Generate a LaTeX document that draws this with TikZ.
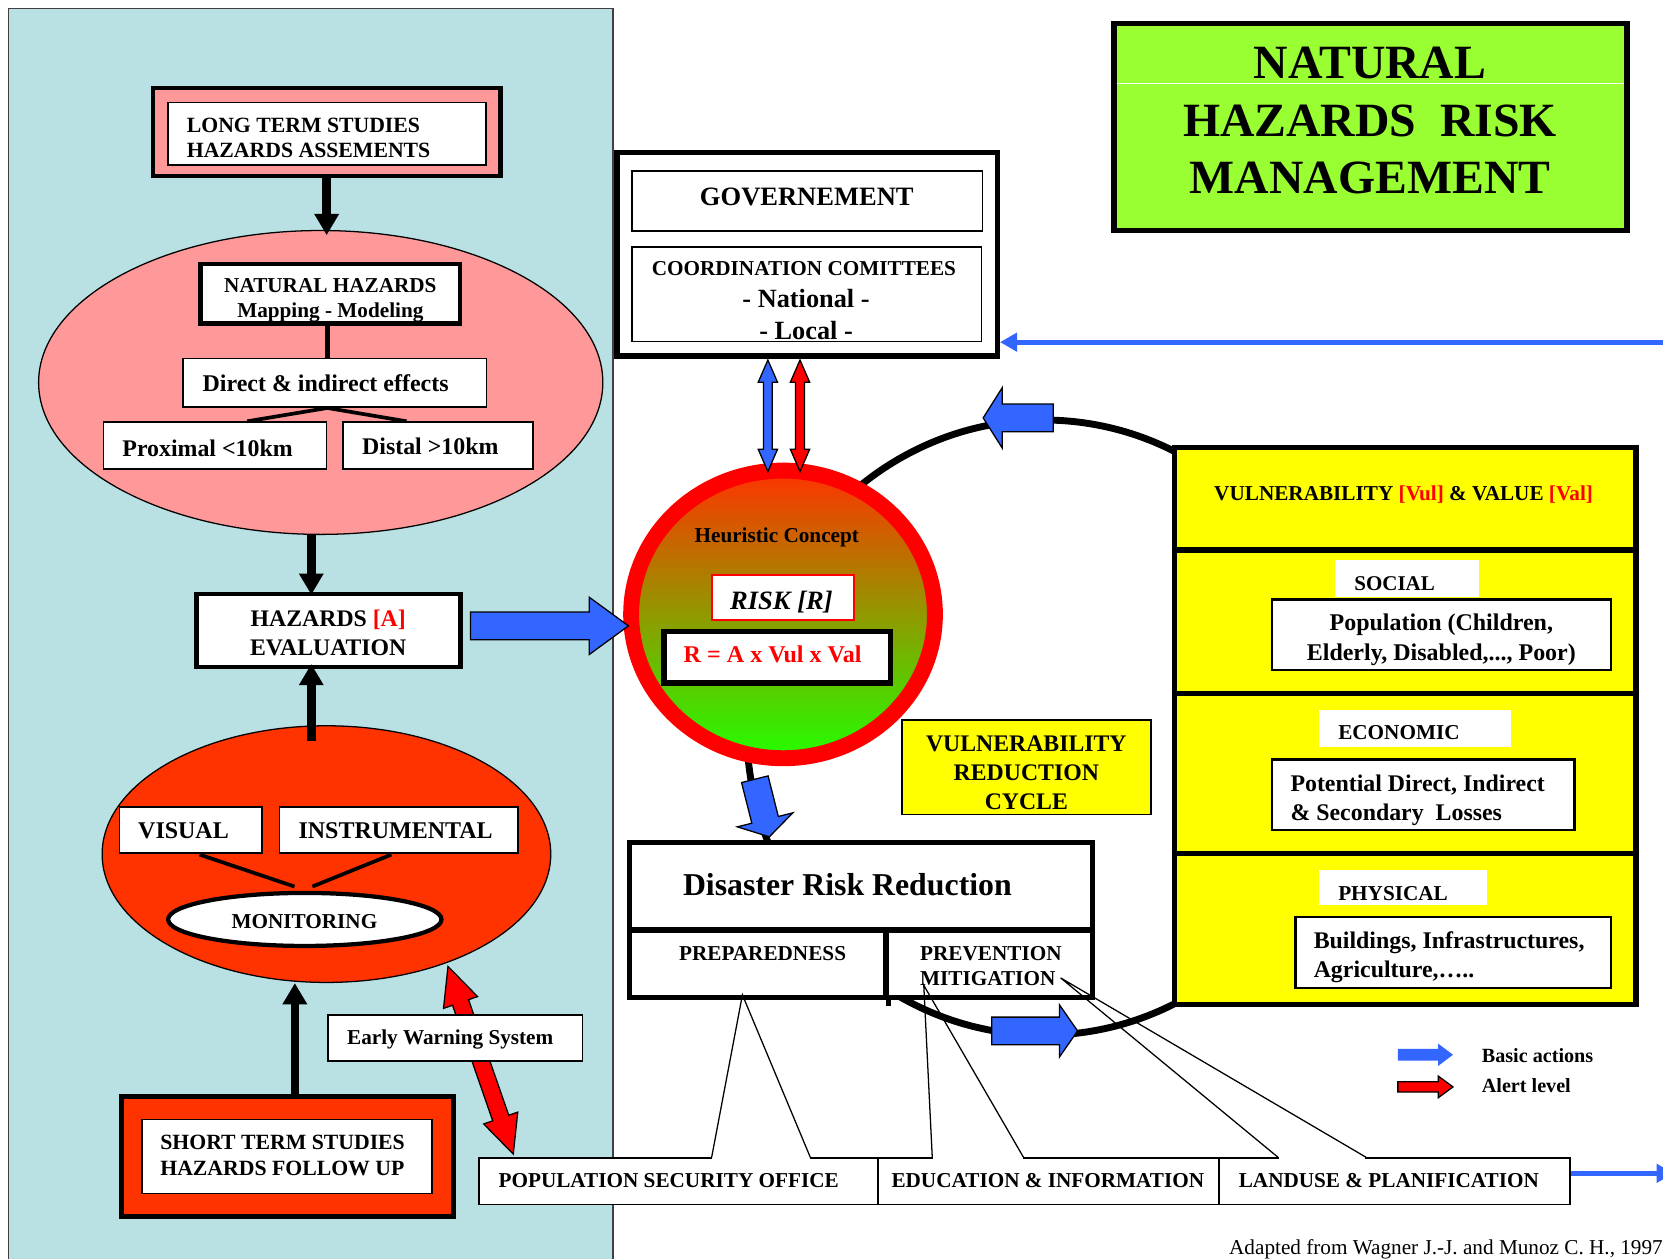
\documentclass[tikz,border=0pt]{standalone}
\usepackage{fontspec}
\setmainfont{Liberation Serif}
\usetikzlibrary{calc,arrows.meta,shapes.geometric,fit}
\definecolor{panelblue}{RGB}{185,224,227}
\definecolor{pinkf}{RGB}{255,153,153}
\definecolor{orred}{RGB}{255,51,0}
\definecolor{barrow}{RGB}{51,102,255}
\definecolor{tgreen}{RGB}{153,255,51}
\definecolor{yel}{RGB}{255,255,0}
\definecolor{rred}{RGB}{255,0,0}
\definecolor{midol}{RGB}{200,165,0}
\definecolor{grn}{RGB}{34,255,0}
\newcommand\fsz[2]{\fontsize{#1}{#2}\selectfont}
\newcommand\blockarrow[6]{%
  \coordinate (ba-h) at ($(#2)!#5!(#1)$);
  \path[#6] ($(#1)!#3!90:(#2)$) -- ($(ba-h)!#3!90:(#2)$) -- ($(ba-h)!#4!90:(#2)$) -- (#2) -- ($(ba-h)!#4!-90:(#2)$) -- ($(ba-h)!#3!-90:(#2)$) -- ($(#1)!#3!-90:(#2)$) -- cycle;
}
\newcommand\dblarrow[6]{%
  \coordinate (da-a) at ($(#1)!#5!(#2)$);
  \coordinate (da-b) at ($(#2)!#5!(#1)$);
  \path[#6] (#1) -- ($(da-a)!#4!90:(#2)$) -- ($(da-a)!#3!90:(#2)$) -- ($(da-b)!#3!-90:(#1)$) -- ($(da-b)!#4!-90:(#1)$) -- (#2) -- ($(da-b)!#4!90:(#1)$) -- ($(da-b)!#3!90:(#1)$) -- ($(da-a)!#3!-90:(#2)$) -- ($(da-a)!#4!-90:(#2)$) -- cycle;
}
\tikzset{
  bx/.style={draw, fill=white, line width=1.5pt, inner sep=0pt, rectangle},
  tx/.style={inner sep=0pt, font=\bfseries\fsz{20}{24}, align=center},
  blk/.style={line width=8.5pt, -{Triangle[length=20pt,width=22pt]}},
  bluearr/.style={fill=barrow, draw=black, line width=1.2pt},
  redarr/.style={fill=rred, draw=black, line width=1.2pt},
  bline/.style={draw=barrow, line width=5pt, -{Triangle[length=16pt,width=17pt]}},
  callout/.style={line width=1.2pt},
  lab/.style={fill=white, inner sep=0pt, rectangle},
}
\begin{document}
\begin{tikzpicture}[x=1pt,y=-1pt]
\useasboundingbox (0,0) rectangle (1568,1187);
\fill[white] (0,0) rectangle (1568,1187);
% left panel
\draw[fill=panelblue, draw=black!75, line width=1.2pt] (8,8) rectangle (578,1200);
% cycle loop
\coordinate (cyc) at (984,686);
\draw[line width=6.5pt] (cyc) ellipse [x radius=280, y radius=290];

% ---------- left column ----------
\node[ellipse, draw, fill=pinkf, line width=1.2pt, inner sep=0pt, minimum width=532, minimum height=286.5] (lte) at (302.4,360.6) {};
\node[ellipse, draw, fill=orred, line width=1.2pt, inner sep=0pt, minimum width=423, minimum height=242] (mone) at (307.8,805.3) {};

\node[bx, fill=pinkf, line width=4pt, fit={(144,83) (472,166)}] (ltsout) {};
\node[bx, fit={(158.5,96.5) (458.5,155.5)}] (lts) {};
\node[tx, anchor=west, align=left, font=\bfseries\fsz{20.5}{24}] (ltstxt) at (176,130) {LONG TERM STUDIES\\HAZARDS ASSEMENTS};

\node[bx, line width=4pt, fit={(189,249) (434,305)}] (nh) {};
\node[tx] (nhtxt) at (311.5,283) {NATURAL HAZARDS\\Mapping - Modeling};
\node[bx, fit={(172.7,338.2) (458.6,383.9)}] (dir) {};
\node[tx, font=\bfseries\fsz{22.6}{27}] (dirtxt) at (307,361) {Direct \& indirect effects};
\node[bx, fit={(97.7,398) (308,442)}] (prox) {};
\node[tx, font=\bfseries\fsz{22.5}{27}] (proxtxt) at (195.7,423) {Proximal <10km};
\node[bx, fit={(323.6,398) (502.6,442)}] (dist) {};
\node[tx, font=\bfseries\fsz{22.5}{27}] (disttxt) at (405.7,421) {Distal >10km};

\coordinate (cx1) at (308.7,0);
\coordinate (cx2) at (293.5,0);
\coordinate (cx3) at (278,0);
\draw[line width=4pt] (nh.south -| cx1) -- (dir.north -| cx1);
\draw[line width=3.5pt] ($(prox.north)+(30.2,0)$) -- (dir.south -| cx1) -- ($(dist.north)+(-29.8,0)$);
\draw[blk] (ltsout.south) -- ($(ltsout.south |- lte.north)+(0,5)$);

\node[bx, line width=4.5pt, fit={(185,560) (434,628.8)}] (haz) {};
\node[tx, font=\bfseries\fsz{22.4}{27}] (haztxt) at (309.5,596.5) {HAZARDS \textcolor{rred}{[A]}\\EVALUATION};
\draw[blk] (lte.south -| cx2) -- ($(haz.north -| cx2)+(0,3)$);
\draw[blk] ($(mone.north -| cx2)+(0,15)$) -- ($(haz.south -| cx2)+(0,-5)$);

\node[bx, fit={(112.6,760.8) (247.3,804.5)}] (vis) {};
\node[tx, font=\bfseries\fsz{22.6}{27}] (vistxt) at (173,783.5) {VISUAL};
\node[bx, fit={(263.6,760.8) (488.4,804.5)}] (inst) {};
\node[tx, font=\bfseries\fsz{22.6}{27}] (insttxt) at (373,783.5) {INSTRUMENTAL};
\node[ellipse, draw, fill=white, line width=4pt, inner sep=0pt, minimum width=257.7, minimum height=50] (mon) at (287.4,866.9) {};
\node[tx] (montxt) at (287,869) {MONITORING};
\draw[line width=3.5pt] ($(vis.south)+(8.3,0.5)$) -- ($(mon.north)+(-9.7,-4)$);
\draw[line width=3.5pt] ($(inst.south)+(-7,0.5)$) -- ($(mon.north)+(7.1,-4)$);

\node[bx, fill=orred, line width=4.5pt, fit={(114.2,1033.7) (427.6,1146.8)}] (stso) {};
\node[bx, fit={(133.8,1055.4) (407.5,1125.4)}] (sts) {};
\node[tx, anchor=west, align=left, font=\bfseries\fsz{20.5}{24.5}] (ststxt) at (151,1089) {SHORT TERM STUDIES\\HAZARDS FOLLOW UP};
\draw[blk, line width=7.5pt] (stso.north -| cx3) -- (mone.south -| cx3);

% bottom boxes
\node[bx, fit={(451.7,1091.9) (827.8,1135.5)}] (pso) {};
\node[tx] (psotxt) at (630.5,1113.5) {POPULATION SECURITY OFFICE};
\node[bx, fit={(827.8,1091.9) (1149.4,1135.5)}] (edu) {};
\node[tx] (edutxt) at (988,1113.5) {EDUCATION \& INFORMATION};
\node[bx, fit={(1149.4,1091.9) (1480.3,1135.5)}] (land) {};
\node[tx] (landtxt) at (1309.5,1113.5) {LANDUSE \& PLANIFICATION};

% red double arrow + early warning
\coordinate (r1a) at ($(mone.center)+(114.6,105.9)$);
\coordinate (r1b) at ($(pso.north west)+(33,-3)$);
\dblarrow{r1a}{r1b}{8pt}{17pt}{36pt}{redarr}
\node[bx, fit={(309,957.2) (549.2,1000.4)}] (ews) {};
\node[tx] (ewstxt) at (424.5,980.2) {Early Warning System};

% ---------- middle ----------
\node[bx, line width=5pt, fit={(581.7,144) (940.4,335.6)}] (govo) {};
\node[bx, fit={(595.7,161.2) (926.3,217.8)}] (gov) {};
\node[tx, font=\bfseries\fsz{25}{30}] (govtxt) at (760.7,185.7) {GOVERNEMENT};
\node[bx, fit={(595.7,232.7) (925.3,321.8)}] (coord) {};
\node[tx] (cotxt1) at (758,253) {COORDINATION COMITTEES};
\node[tx, font=\bfseries\fsz{24.8}{30}] (cotxt2) at (760,281.7) {- National -};
\node[tx, font=\bfseries\fsz{24.8}{30}] (cotxt3) at (760,311.2) {- Local -};

\node[ellipse, draw=rred, line width=15pt, top color=orred, middle color=midol, bottom color=grn, inner sep=0pt, minimum width=286.4, minimum height=271.2] (risk) at (738.3,579.3) {};
\node[tx] (heutxt) at (732.4,506.8) {Heuristic Concept};
\node[bx, draw=rred, line width=2pt, fit={(671.1,542.4) (805.5,584.5)}] (riskbox) {};
\node[tx, font=\bfseries\itshape\fsz{25}{30}] (risktxt) at (736.8,568) {RISK [R]};
\node[bx, line width=5pt, fit={(626.1,595.7) (839.4,644.1)}] (rbox) {};
\node[tx, font=\bfseries\fsz{22.7}{27}, text=rred] (rtxt) at (728.5,617) {R = A x Vul x Val};

% arrows into/out of risk
\coordinate (b1s) at ($(haz.east)+(7.4,-4.3)$);
\coordinate (b1t) at ($(risk.west |- b1s)+(5,0)$);
\blockarrow{b1s}{b1t}{13pt}{27pt}{37pt}{bluearr}
\coordinate (dbx1) at (724,0);
\coordinate (dbx2) at (754.3,0);
\coordinate (d1a) at ($(govo.south -| dbx1)+(0,1.3)$);
\coordinate (d1b) at ($(risk.north -| dbx1)+(0,8.4)$);
\coordinate (d2a) at ($(govo.south -| dbx2)+(0,1.3)$);
\coordinate (d2b) at ($(risk.north -| dbx2)+(0,8.4)$);
\dblarrow{d1a}{d1b}{4.2pt}{9.1pt}{21pt}{bluearr}
\dblarrow{d2a}{d2b}{4.2pt}{9.1pt}{21pt}{redarr}
\coordinate (bl1) at (1580,322.6);
\draw[bline] (bl1) -- (govo.east |- bl1);

% DRR
\node[bx, line width=5pt, fit={(593.8,794.5) (1029.8,876.9)}] (drrtop) {};
\node[bx, line width=5pt, fit={(593.8,876.9) (835.5,940.4)}] (prep) {};
\node[bx, line width=5pt, fit={(835.5,876.9) (1029.8,940.4)}] (prev) {};
\draw[line width=5pt] (prep.south east) -- ++(0,6);
\node[tx, font=\bfseries\fsz{30}{36}] (drrtxt) at (799,834.4) {Disaster Risk Reduction};
\node[tx] (preptxt) at (719,899.5) {PREPAREDNESS};
\node[tx, anchor=west, align=left, font=\bfseries\fsz{20}{23}] (prevtxt) at (867.4,911) {PREVENTION\\MITIGATION};

\coordinate (b2s) at ($(risk.south)+(-26.6,12.3)$);
\coordinate (b2t) at ($(drrtop.north)+(-86.4,-3)$);
\blockarrow{b2s}{b2t}{12.9pt}{27pt}{16.5pt}{bluearr}

% cycle arrows
\coordinate (cyc1s) at ($(cyc)+(9,-292)$);
\coordinate (cyc1t) at ($(cyc)+(-57,-292)$);
\blockarrow{cyc1s}{cyc1t}{13pt}{28.5pt}{18pt}{bluearr}
\coordinate (cyc2s) at ($(cyc)+(-49,286)$);
\coordinate (cyc2t) at ($(cyc)+(32,286)$);
\blockarrow{cyc2s}{cyc2t}{13pt}{24.5pt}{17pt}{bluearr}

\node[bx, fill=yel, fit={(850.2,678.9) (1085.3,768)}] (vrc) {};
\node[tx, font=\bfseries\fsz{22.4}{27.4}] (vrctxt) at (967.7,728.7) {VULNERABILITY\\REDUCTION\\CYCLE};

% callouts
\coordinate (ca1) at (700,938);
\coordinate (ca2) at (871,929);
\coordinate (ca3) at (1000,922);
\fill[white] ($(pso.north)+(32,-1.5)$) rectangle ($(pso.north)+(123.5,1.5)$);
\draw[callout] ($(pso.north)+(31.25,0)$) -- (ca1) -- ($(pso.north)+(124.25,0)$);
\fill[white] ($(edu.north)+(-108.8,-1.5)$) rectangle ($(edu.north)+(-24.4,1.5)$);
\draw[callout] ($(edu.north)+(-109.6,0)$) -- (ca2) -- ($(edu.north)+(-23.6,0)$);
\fill[white] ($(land.north)+(-109,-1.5)$) rectangle ($(land.north)+(-27.6,1.5)$);
\draw[callout] ($(land.north)+(-109.85,0)$) -- (ca3) -- ($(land.north)+(-26.85,0)$);
\coordinate (bl2) at (1578,1106.3);
\draw[bline] (land.east |- bl2) -- (bl2);

% ---------- right ----------
\node[bx, fill=tgreen, line width=5.5pt, fit={(1050,22.2) (1533.7,217.3)}] (title) {};
\coordinate (twl) at (0,78.6);
\draw[white, line width=0.8pt] ($(title.west |- twl)+(5.5,0)$) -- ($(title.east |- twl)+(-5.5,0)$);
\node[tx, font=\bfseries\fsz{45}{54.3}] (titletxt) at (1291.8,113.9) {NATURAL\\HAZARDS\ \ RISK\\MANAGEMENT};

\node[bx, fill=yel, line width=5pt, fit={(1107.4,422) (1542.5,518.7)}] (vulh) {};
\node[bx, fill=yel, line width=5pt, fit={(1107.4,518.7) (1542.5,654)}] (soc) {};
\node[bx, fill=yel, line width=5pt, fit={(1107.4,654) (1542.5,804.8)}] (eco) {};
\node[bx, fill=yel, line width=5pt, fit={(1107.4,804.8) (1542.5,947.3)}] (phy) {};
\node[tx] (vultxt) at (1323.4,466) {VULNERABILITY \textcolor{rred}{[Vul]} \& VALUE \textcolor{rred}{[Val]}};

\node[lab, fit={(1258.9,527.7) (1394.3,562.7)}] (soclab) {};
\node[tx, anchor=west, font=\bfseries\fsz{19.8}{24}] (soctxt) at (1276.8,550.4) {SOCIAL};
\node[bx, line width=2.5pt, fit={(1199.2,565) (1519,631.8)}] (pop) {};
\node[tx, font=\bfseries\fsz{22.6}{27.8}] (poptxt) at (1359,603.3) {Population (Children,\\Elderly, Disabled,..., Poor)};

\node[lab, fit={(1243.6,669.5) (1424.8,704.5)}] (econlab) {};
\node[tx, anchor=west] (econtxt) at (1261.6,691.1) {ECONOMIC};
\node[bx, line width=2.5pt, fit={(1199.2,715.8) (1484.6,782.7)}] (pot) {};
\node[tx, anchor=west, align=left, font=\bfseries\fsz{22.5}{27.8}] (pottxt) at (1216.6,754.5) {Potential Direct, Indirect\\\& Secondary\ \ Losses};

\node[lab, fit={(1243.6,820.7) (1401.8,853.2)}] (physlab) {};
\node[tx, anchor=west] (phystxt) at (1261.6,842.4) {PHYSICAL};
\node[bx, line width=2.5pt, fit={(1221.2,864.5) (1519,931.4)}] (bld) {};
\node[tx, anchor=west, align=left, font=\bfseries\fsz{22.5}{27.8}] (bldtxt) at (1238.5,902.5) {Buildings, Infrastructures,\\Agriculture,…..};

% legend
\coordinate (lg1s) at (1318,994.5);
\coordinate (lg1t) at (1370,994.5);
\blockarrow{lg1s}{lg1t}{5.5pt}{10.5pt}{14pt}{fill=barrow}
\coordinate (lg2s) at (1318,1024.8);
\coordinate (lg2t) at (1370,1024.8);
\blockarrow{lg2s}{lg2t}{4.8pt}{10.3pt}{14pt}{redarr}
\node[tx, anchor=west, font=\bfseries\fsz{19}{23}] (leg1) at (1397,995.5) {Basic actions};
\node[tx, anchor=west, font=\bfseries\fsz{19}{23}] (leg2) at (1397,1024) {Alert level};

\node[inner sep=0pt, anchor=east, font=\fsz{20}{24}] (foot) at (1568,1178) {Adapted from Wagner J.-J. and Munoz C. H., 1997};
\end{tikzpicture}
\end{document}
